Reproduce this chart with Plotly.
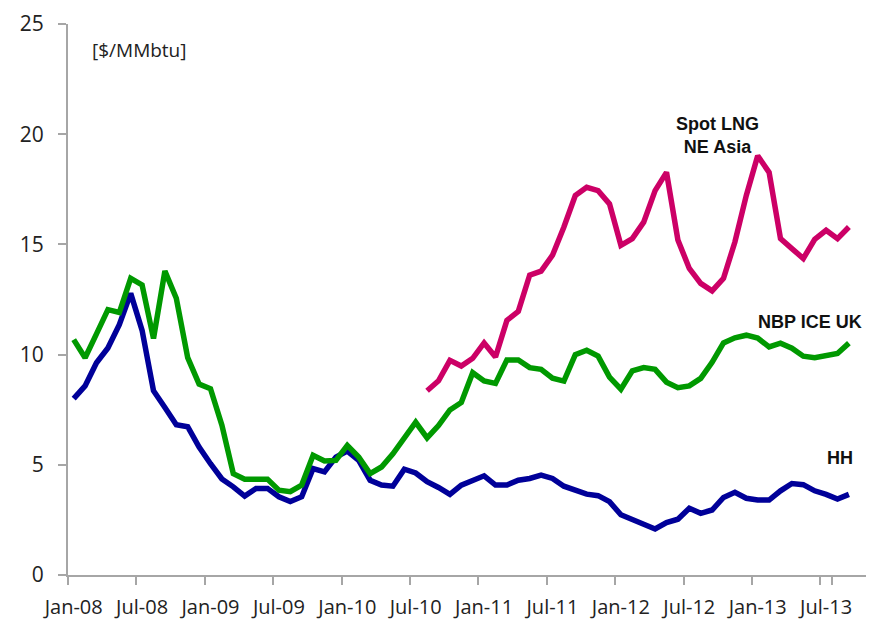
import plotly.graph_objects as go
import pandas as pd

months = [d.strftime("%b-%y") for d in pd.date_range("2008-01-01", "2013-09-01", freq="MS")]

hh = [8.0, 8.58, 9.63, 10.3, 11.36, 12.78, 11.1, 8.36, 7.6, 6.82, 6.73, 5.8,
      5.05, 4.36, 4.0, 3.58, 3.93, 3.93, 3.55, 3.33, 3.55, 4.83, 4.68, 5.35,
      5.62, 5.2, 4.3, 4.08, 4.03, 4.8, 4.63, 4.23, 3.97, 3.66, 4.08, 4.27,
      4.5, 4.08, 4.08, 4.3, 4.38, 4.53, 4.38, 4.03, 3.88, 3.67, 3.6, 3.33,
      2.73, 2.5, 2.3, 2.09, 2.38, 2.53, 3.03, 2.8, 2.95, 3.52, 3.75, 3.48,
      3.4, 3.4, 3.82, 4.15, 4.1, 3.82, 3.66, 3.45, 3.66]

nbp = [10.68, 9.86, 10.94, 12.04, 11.91, 13.46, 13.16, 10.73, 13.79, 12.56, 9.86, 8.66,
       8.45, 6.8, 4.6, 4.35, 4.35, 4.35, 3.85, 3.78, 4.08, 5.43, 5.17, 5.2,
       5.88, 5.35, 4.6, 4.9, 5.5, 6.18, 6.93, 6.22, 6.78, 7.49, 7.83, 9.18,
       8.8, 8.69, 9.76, 9.76, 9.41, 9.33, 8.93, 8.8, 10.0, 10.2, 9.93, 8.98,
       8.43, 9.26, 9.41, 9.33, 8.75, 8.5, 8.58, 8.92, 9.65, 10.53, 10.76, 10.88,
       10.75, 10.35, 10.52, 10.29, 9.93, 9.86, 9.98, 10.05, 10.52]

lng = [None] * 31 + [8.36, 8.81, 9.74, 9.48, 9.83, 10.53, 9.89, 11.55, 11.96,
       13.61, 13.79, 14.51, 15.79, 17.22, 17.59, 17.44, 16.84, 14.96, 15.26, 16.01, 17.44,
       18.27, 15.2, 13.91, 13.23, 12.89, 13.46, 15.11, 17.22, 19.02, 18.27, 15.26, 14.81,
       14.36, 15.23, 15.64, 15.26, 15.79]

tick_months = [m for m in months if m.startswith(("Jan", "Jul"))]

FONT = "Open Sans"
LBL = "Liberation Sans"
fig = go.Figure()
fig.add_trace(go.Scatter(x=months, y=hh, mode="lines", name="HH",
                         line=dict(color="#000099", width=5.5)))
fig.add_trace(go.Scatter(x=months, y=nbp, mode="lines", name="NBP ICE UK",
                         line=dict(color="#009900", width=5.5)))
fig.add_trace(go.Scatter(x=months, y=lng, mode="lines", name="Spot LNG NE Asia",
                         line=dict(color="#CC0066", width=5.5)))

annots = [
    dict(x=0.027, y=0.953, xref="paper", yref="paper", text="[$/MMbtu]",
         showarrow=False, xanchor="left", yanchor="middle",
         font=dict(size=19, color="#222222", family=FONT)),
    dict(x=0.814, y=0.797, xref="paper", yref="paper", text="<b>Spot LNG</b><br><b>NE Asia</b>",
         showarrow=False, xanchor="center", yanchor="middle",
         font=dict(size=18, color="#111111", family=LBL)),
    dict(x=0.998, y=0.459, xref="paper", yref="paper", text="<b>NBP ICE UK</b>",
         showarrow=False, xanchor="right", yanchor="middle",
         font=dict(size=18, color="#111111", family=LBL)),
    dict(x=0.986, y=0.213, xref="paper", yref="paper", text="<b>HH</b>",
         showarrow=False, xanchor="right", yanchor="middle",
         font=dict(size=18, color="#111111", family=LBL)),
]

fig.update_layout(
    width=879, height=621,
    margin=dict(l=60, r=21, t=16, b=54),
    plot_bgcolor="white", paper_bgcolor="white",
    showlegend=False,
    annotations=annots,
    xaxis=dict(type="category", range=[-0.5, 69.5], tickvals=tick_months,
               ticktext=tick_months, tickson="boundaries", tickangle=0,
               automargin=False, ticklabelstandoff=13, ticklabeloverflow="allow",
               ticks="outside", ticklen=8, tickcolor="#A6A6A6", tickwidth=2,
               showline=True, linecolor="#A6A6A6", linewidth=2,
               showgrid=False, zeroline=False,
               tickfont=dict(size=20, color="#222222", family=FONT)),
    yaxis=dict(range=[0, 25], dtick=5, ticks="outside", ticklen=8,
               automargin=False, ticklabelstandoff=10, ticklabeloverflow="allow",
               tickcolor="#A6A6A6", tickwidth=2,
               showline=True, linecolor="#A6A6A6", linewidth=2,
               showgrid=False, zeroline=False,
               tickfont=dict(size=21, color="#222222", family=FONT)),
)

fig.write_html("out.html")
